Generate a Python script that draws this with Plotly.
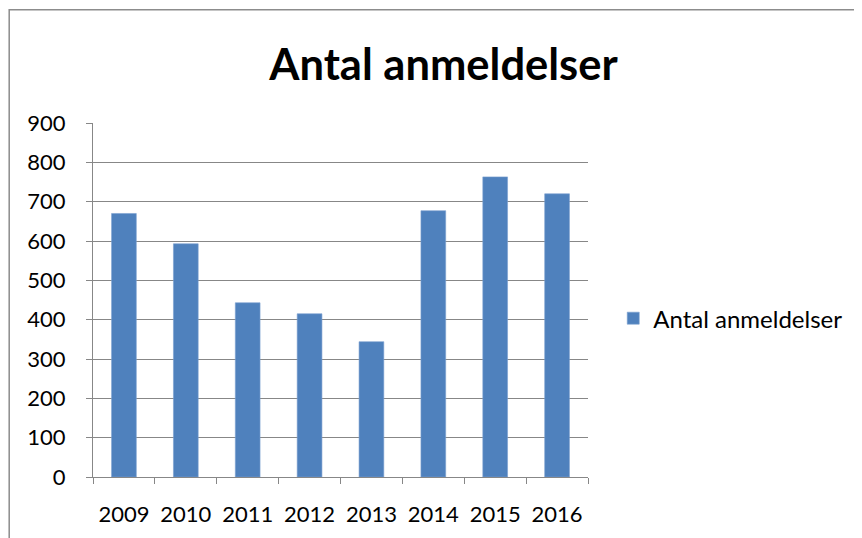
import plotly.graph_objects as go

years = ["2009", "2010", "2011", "2012", "2013", "2014", "2015", "2016"]
anmeldelser = [670, 593, 443, 415, 344, 677, 763, 720]
series_name = "Antal anmeldelser"
y_ticks = [0, 100, 200, 300, 400, 500, 600, 700, 800, 900]

FONT = "Lato"
GRID = "#878787"

fig = go.Figure()
fig.add_trace(go.Bar(
    x=years, y=anmeldelser, name=series_name,
    marker=dict(color="#4F81BD", line=dict(color="#7A9FD0", width=0.6)),
    width=0.4, showlegend=True,
))

fig.update_layout(
    width=862, height=538,
    paper_bgcolor="white", plot_bgcolor="white",
    margin=dict(l=84.6, r=282.2, t=115.3, b=68.5, autoexpand=False),
    title=dict(text="<b>Antal anmeldelser</b>", x=0.5052, xanchor="center",
               y=0.895, yanchor="middle", yref="container",
               font=dict(family=FONT, size=43.5, color="black")),
    font=dict(family=FONT, color="black"),
    showlegend=True,
    legend=dict(x=1.051, xanchor="left", y=0.4475, yanchor="middle",
                font=dict(family=FONT, size=24, color="black"),
                bgcolor="rgba(0,0,0,0)"),
    bargap=0.6,
)
fig.update_xaxes(
    type="category", showline=True, linecolor=GRID, linewidth=1.3,
    ticks="outside", ticklen=6, tickcolor=GRID, tickwidth=1.3,
    tickson="boundaries", showgrid=False,
    tickfont=dict(family=FONT, size=22, color="black"),
    ticklabelstandoff=17,
)
fig.update_yaxes(
    range=[0, 900], tickvals=y_ticks, showline=True, linecolor=GRID, linewidth=1.3,
    ticks="outside", ticklen=6, tickcolor=GRID, tickwidth=1.3,
    showgrid=True, gridcolor=GRID, gridwidth=1.3, zeroline=False,
    tickfont=dict(family=FONT, size=22, color="black"),
    ticklabelstandoff=16,
)

# outer chart-area border
fig.add_shape(type="rect", xref="paper", yref="paper",
              x0=-0.1693, x1=1.7, y0=-0.3, y1=1.3199,
              line=dict(color="#8C8C8C", width=1.5), fillcolor="rgba(0,0,0,0)",
              layer="below")

fig.write_html("out.html")
